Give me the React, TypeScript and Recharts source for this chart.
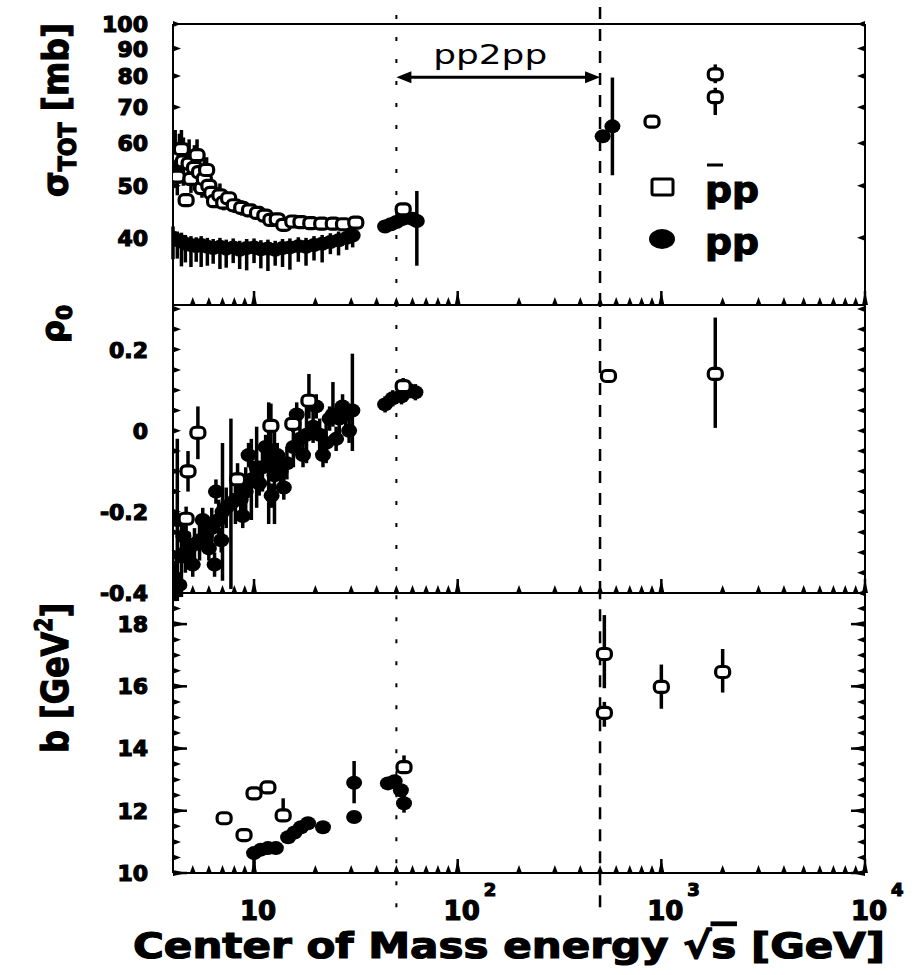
import React from 'react';
import { ScatterChart, Scatter, XAxis, YAxis, ErrorBar, ReferenceLine } from 'recharts';

const FONT = '"DejaVu Sans", "Liberation Sans", sans-serif';

// shared sqrt(s) axis [GeV]
const xTicks = [5, 6, 7, 8, 9, 10, 20, 30, 40, 50, 60, 70, 80, 90, 100, 200, 300, 400, 500, 600, 700, 800, 900, 1000, 2000, 3000, 4000, 5000, 6000, 7000, 8000, 9000, 10000];
const decades = [10, 100, 1000, 10000];
const decadeExp = ['', '2', '3', '4'];

// pp2pp energy range
const pp2ppLo = 50;
const pp2ppHi = 500;

// total cross section [mb]
const sigmaTicks = [40, 50, 60, 70, 80, 90, 100];
const ppSigmaS = [4.0, 4.2, 4.4, 4.6, 4.9, 5.2, 5.5, 5.9, 6.3, 6.8, 7.3, 7.9, 8.5, 9.2, 10.0, 10.8, 11.7, 12.7, 13.8, 15.0, 16.5, 18.0, 19.7, 21.6, 23.7, 26.0, 28.5, 30.5, 44, 47, 50, 53, 56, 60, 63, 515, 575];
const ppSigma = [40.0, 39.6, 39.4, 39.0, 38.8, 38.6, 38.8, 38.5, 38.3, 38.5, 38.2, 38.4, 38.0, 38.3, 38.4, 38.1, 38.2, 38.0, 38.3, 38.4, 38.6, 38.5, 38.8, 39.0, 39.3, 39.6, 40.0, 40.4, 42.0, 42.4, 42.8, 43.3, 43.6, 43.4, 43.0, 61.8, 64.5];
const ppSigmaLo = [3.5, 3.0, 4.0, 3.0, 3.5, 2.5, 3.5, 3.0, 2.5, 3.5, 3.0, 2.5, 3.0, 3.5, 2.5, 3.0, 3.5, 2.5, 3.0, 3.5, 2.5, 3.0, 2.5, 3.0, 2.0, 2.5, 2.0, 2.0, 0.8, 0.8, 0.8, 0.8, 0.8, 0.8, 7.5, 0, 12.2];
const ppSigmaHi = [2.0, 1.5, 1.5, 1.5, 1.5, 1.5, 1.5, 1.5, 1.5, 1.5, 1.5, 1.5, 1.5, 1.5, 1.5, 1.5, 1.5, 1.5, 1.5, 1.5, 1.5, 1.5, 1.5, 1.5, 1.5, 1.5, 1.5, 1.5, 0.8, 0.8, 0.8, 0.8, 0.8, 0.8, 5.9, 0, 15.0];

const pbarSigmaS = [4.1, 4.2, 4.3, 4.4, 4.5, 4.64, 4.8, 4.9, 5.1, 5.25, 5.4, 5.55, 5.7, 5.85, 6.0, 6.2, 6.4, 6.8, 7.1, 7.5, 8.0, 8.7, 9.5, 10.4, 11.3, 12.1, 13.0, 14.0, 15.5, 17.0, 19.0, 21.5, 24.5, 27.5, 31.6, 54, 900, 1840, 1840];
const pbarSigma = [57.5, 52.0, 56.5, 58.5, 55.5, 47.0, 55.0, 51.5, 54.0, 57.0, 53.0, 49.5, 51.5, 53.5, 50.0, 48.5, 46.8, 48.0, 46.5, 47.4, 46.0, 45.5, 45.0, 44.5, 44.0, 43.2, 43.3, 42.3, 42.9, 42.8, 42.6, 42.5, 42.5, 42.4, 42.7, 45.2, 65.8, 80.6, 73.1];
const pbarSigmaLo = [6, 4, 6, 5, 5.5, 1, 5, 3, 5, 4, 4, 2, 3.5, 3, 3, 2, 1, 2, 1.5, 1, 1.5, 1.5, 1.2, 1, 1, 0.6, 0.8, 0.6, 0.8, 0.8, 0.7, 0.7, 0.6, 0.6, 0.6, 0.5, 0, 3, 5.4];
const pbarSigmaHi = [6, 4, 6, 5, 6, 1, 6, 3, 5.5, 4, 5, 2, 4.5, 3, 3.5, 2, 1, 2.5, 1.5, 1, 1.5, 1.5, 1.2, 1, 1, 0.6, 0.8, 0.6, 0.8, 0.8, 0.7, 0.7, 0.6, 0.6, 0.6, 0.5, 0, 3.5, 3];

// rho parameter
const rhoTicks = [-0.4, -0.35, -0.3, -0.25, -0.2, -0.15, -0.1, -0.05, 0, 0.05, 0.1, 0.15, 0.2, 0.25, 0.3];
const rhoLabels = [-0.4, -0.2, 0, 0.2];
const ppRhoS = [4.1, 4.2, 4.3, 4.4, 4.5, 4.6, 4.8, 5.0, 5.1, 5.4, 5.6, 5.8, 6.0, 6.2, 6.4, 6.5, 6.7, 6.9, 7.0, 7.3, 7.7, 8.1, 8.6, 8.8, 9.1, 9.4, 9.7, 10.3, 10.6, 11.0, 11.4, 11.8, 12.2, 12.6, 13.0, 13.5, 14.0, 14.5, 15.6, 16.2, 16.8, 17.4, 18.1, 19.5, 20.2, 21.0, 21.8, 22.6, 23.5, 24.4, 25.3, 26.2, 27.2, 28.2, 29.3, 30.4, 44, 48, 53, 58, 62];
const ppRho = [-0.37, -0.22, -0.38, -0.31, -0.26, -0.30, -0.29, -0.33, -0.28, -0.27, -0.22, -0.26, -0.29, -0.24, -0.33, -0.15, -0.22, -0.27, -0.20, -0.19, -0.18, -0.17, -0.17, -0.21, -0.15, -0.06, -0.12, -0.09, -0.13, -0.09, -0.04, -0.08, -0.16, -0.11, -0.06, -0.10, -0.14, -0.08, -0.04, 0.04, -0.02, -0.06, -0.01, 0.01, 0.06, -0.01, -0.06, -0.03, 0.03, 0.04, -0.02, 0.03, 0.06, 0.04, 0.0, 0.05, 0.065, 0.08, 0.085, 0.1, 0.095];
const ppRhoLo = [0.05, 0.2, 0.03, 0.1, 0.03, 0.05, 0.04, 0.03, 0.04, 0.05, 0.03, 0.04, 0.03, 0.05, 0.03, 0.03, 0.05, 0.03, 0.17, 0.05, 0.21, 0.06, 0.05, 0.03, 0.06, 0.03, 0.1, 0.1, 0.03, 0.06, 0.03, 0.15, 0.03, 0.12, 0.03, 0.05, 0.03, 0.04, 0.05, 0.03, 0.05, 0.03, 0.07, 0.04, 0.03, 0.04, 0.03, 0.05, 0.03, 0.03, 0.03, 0.04, 0.03, 0.03, 0.03, 0.1, 0.02, 0.02, 0.02, 0.02, 0.02];
const ppRhoHi = [0.05, 0.2, 0.03, 0.1, 0.03, 0.05, 0.04, 0.03, 0.04, 0.05, 0.03, 0.04, 0.03, 0.05, 0.03, 0.03, 0.05, 0.03, 0.17, 0.05, 0.21, 0.06, 0.05, 0.03, 0.06, 0.03, 0.1, 0.1, 0.03, 0.06, 0.03, 0.15, 0.03, 0.12, 0.03, 0.05, 0.03, 0.04, 0.05, 0.03, 0.05, 0.03, 0.07, 0.04, 0.03, 0.04, 0.03, 0.05, 0.03, 0.08, 0.03, 0.04, 0.03, 0.03, 0.03, 0.14, 0.02, 0.02, 0.02, 0.02, 0.02];

const pbarRhoS = [4.64, 4.74, 5.3, 8.3, 12.1, 15.5, 18.6, 54, 550, 1840];
const pbarRho = [-0.217, -0.10, -0.005, -0.12, 0.012, 0.017, 0.074, 0.11, 0.135, 0.14];
const pbarRhoLo = [0.03, 0.05, 0.065, 0.04, 0.05, 0.02, 0.044, 0.02, 0.01, 0.133];
const pbarRhoHi = [0.03, 0.05, 0.065, 0.04, 0.055, 0.03, 0.066, 0.02, 0.01, 0.139];

// nuclear slope b [GeV^2]
const bTicks = [10, 10.5, 11, 11.5, 12, 12.5, 13, 13.5, 14, 14.5, 15, 15.5, 16, 16.5, 17, 17.5, 18, 18.5, 19];
const bLabels = [10, 12, 14, 16, 18];
const ppBS = [10.0, 10.8, 11.7, 12.8, 14.7, 15.8, 17.0, 18.4, 21.8, 31.0, 31.0, 45.4, 49, 52.6, 54.5];
const ppB = [10.64, 10.75, 10.8, 10.8, 11.15, 11.3, 11.47, 11.6, 11.47, 12.9, 11.8, 12.88, 12.95, 12.66, 12.24];
const ppBLo = [0.64, 0.1, 0.1, 0.1, 0.1, 0.1, 0.1, 0.1, 0.1, 0.66, 0.1, 0.15, 0.15, 0.2, 0.3];
const ppBHi = [0.1, 0.1, 0.1, 0.1, 0.1, 0.1, 0.1, 0.1, 0.1, 0.7, 0.1, 0.15, 0.15, 0.2, 0.3];

const pbarBS = [7.13, 8.93, 10.0, 11.7, 13.9, 54.5, 525, 525, 1000, 2000];
const pbarB = [11.76, 11.22, 12.56, 12.75, 11.85, 13.4, 17.04, 15.15, 15.98, 16.46];
const pbarBLo = [0, 0, 0, 0, 0.1, 0.1, 1.1, 0.45, 0.7, 0.66];
const pbarBHi = [0, 0, 0, 0, 0.55, 0.38, 1.25, 0.35, 0.72, 0.74];

const pts = (s: number[], v: number[], lo: number[], hi: number[]) =>
  s.map((x, i) => ({ x, y: v[i], err: [lo[i], hi[i]] }));

const margin = { top: 0, right: 46, bottom: 0, left: 93 };
const axisLine = { stroke: '#000', strokeWidth: 2 };
const heavy = { stroke: '#000', strokeWidth: 1.2 };

function FilledDot(props: any) {
  const { cx, cy } = props;
  if (cx == null || cy == null) return null;
  return <ellipse cx={cx} cy={cy} rx={8} ry={7} fill="#000" />;
}

function OpenMark(props: any) {
  const { cx, cy } = props;
  if (cx == null || cy == null) return null;
  return <rect x={cx - 7} y={cy - 5.5} width={14} height={11} rx={4.5} fill="#fff" stroke="#000" strokeWidth={3.2} />;
}

function XTick(props: any) {
  const { x, y, payload, dir, showLabel } = props;
  const v = payload.value;
  const di = decades.indexOf(v);
  const major = di >= 0;
  const len = major ? 14 : 8;
  const tip = y + dir * len;
  return (
    <g>
      <path d={`M${x - 3},${y} L${x + 3},${y} L${x},${tip} Z`} fill="#000" />
      {major && <line x1={x} y1={y} x2={x} y2={tip} stroke="#000" strokeWidth={2.5} />}
      {showLabel && major && (
        <g fontFamily={FONT} fontWeight={700} fill="#000" {...heavy}>
          <text x={x + 4} y={y + 47} fontSize={26} textAnchor="middle">10</text>
          {decadeExp[di] && <text x={x + 26} y={y + 23} fontSize={18}>{decadeExp[di]}</text>}
        </g>
      )}
    </g>
  );
}

function YTick(props: any) {
  const { x, y, payload, dir, labels, majors } = props;
  const v = payload.value;
  const near = (list: number[]) => list.some((l) => Math.abs(l - v) < 1e-9);
  const isMajor = majors && near(majors);
  const len = isMajor ? 14 : 8;
  const tip = x + dir * len;
  return (
    <g>
      <path d={`M${x},${y - 3} L${x},${y + 3} L${tip},${y} Z`} fill="#000" />
      {isMajor && <line x1={x} y1={y} x2={tip} y2={y} stroke="#000" strokeWidth={2.5} />}
      {labels && near(labels) && (
        <text x={x - 25} y={y} dy="0.36em" textAnchor="end" fontFamily={FONT} fontWeight={700} fontSize={22} fill="#000" {...heavy}>
          {String(v)}
        </text>
      )}
    </g>
  );
}

function Pp2ppArrow(props: any) {
  const { x1, y1, x2 } = props;
  return (
    <g>
      <line x1={x1 + 8} y1={y1} x2={x2 - 8} y2={y1} stroke="#000" strokeWidth={3} />
      <path d={`M${x1},${y1} l15,-6 l0,12 Z`} fill="#000" />
      <path d={`M${x2},${y1} l-15,-6 l0,12 Z`} fill="#000" />
      <text x={(x1 + x2) / 2 - 8} y={y1 - 13} textAnchor="middle" fontFamily={FONT} fontSize={26} textLength={114} lengthAdjust="spacingAndGlyphs" fill="#000">
        pp2pp
      </text>
    </g>
  );
}

function Axes({ yDomain, yTicks, yLabels, yMajors, yScale, topH, bottomH, xLabels }: any) {
  return [
    <XAxis key="xb" xAxisId={0} dataKey="x" type="number" scale="log" domain={[4, 10000]} allowDataOverflow
      ticks={xTicks} interval={0} height={bottomH} tickSize={0} tickMargin={0} tickLine={false} axisLine={axisLine}
      tick={(p: any) => <XTick {...p} dir={-1} showLabel={xLabels} />} />,
    <XAxis key="xt" xAxisId="top" orientation="top" type="number" scale="log" domain={[4, 10000]} allowDataOverflow
      ticks={xTicks} interval={0} height={topH} tickSize={0} tickMargin={0} tickLine={false} axisLine={axisLine}
      tick={(p: any) => <XTick {...p} dir={1} showLabel={false} />} />,
    <YAxis key="yl" yAxisId={0} dataKey="y" type="number" scale={yScale} domain={yDomain} allowDataOverflow
      ticks={yTicks} interval={0} width={80} tickSize={0} tickMargin={0} tickLine={false} axisLine={axisLine}
      tick={(p: any) => <YTick {...p} dir={1} labels={yLabels} majors={yMajors} />} />,
    <YAxis key="yr" yAxisId="right" orientation="right" type="number" scale={yScale} domain={yDomain} allowDataOverflow
      ticks={yTicks} interval={0} width={1} tickSize={0} tickMargin={0} tickLine={false} axisLine={axisLine}
      tick={(p: any) => <YTick {...p} dir={-1} majors={yMajors} />} />,
  ];
}

function Series({ pp, pbar }: any) {
  return [
    <Scatter key="pp" data={pp} shape={FilledDot} isAnimationActive={false}>
      <ErrorBar dataKey="err" direction="y" width={0} stroke="#000" strokeWidth={3.5} />
    </Scatter>,
    <Scatter key="pbar" data={pbar} shape={OpenMark} isAnimationActive={false}>
      <ErrorBar dataKey="err" direction="y" width={0} stroke="#000" strokeWidth={3.5} />
    </Scatter>,
  ];
}

const loLine = { stroke: '#000', strokeWidth: 2, strokeDasharray: '4 18' };
const hiLine = { stroke: '#000', strokeWidth: 2.5, strokeDasharray: '12 10' };

export default function App() {
  const sigmaPp = pts(ppSigmaS, ppSigma, ppSigmaLo, ppSigmaHi);
  const sigmaPbar = pts(pbarSigmaS, pbarSigma, pbarSigmaLo, pbarSigmaHi);
  const rhoPp = pts(ppRhoS, ppRho, ppRhoLo, ppRhoHi);
  const rhoPbar = pts(pbarRhoS, pbarRho, pbarRhoLo, pbarRhoHi);
  const bPp = pts(ppBS, ppB, ppBLo, ppBHi);
  const bPbar = pts(pbarBS, pbarB, pbarBLo, pbarBHi);

  return (
    <div style={{ position: 'absolute', left: 0, top: 0, width: 912, height: 975, background: '#fff', overflow: 'hidden' }}>
      <div style={{ position: 'absolute', left: 0, top: 0 }}>
        <ScatterChart width={912} height={306} margin={margin}>
          {Axes({ yDomain: [30, 100], yTicks: sigmaTicks, yLabels: sigmaTicks, yScale: 'log', topH: 24, bottomH: 1, xLabels: false })}
          <ReferenceLine segment={[{ x: pp2ppLo, y: 30 }, { x: pp2ppLo, y: 150 }]} ifOverflow="visible" {...loLine} />
          <ReferenceLine segment={[{ x: pp2ppHi, y: 30 }, { x: pp2ppHi, y: 150 }]} ifOverflow="visible" {...hiLine} />
          <ReferenceLine segment={[{ x: pp2ppLo, y: 79.6 }, { x: pp2ppHi, y: 79.6 }]} ifOverflow="visible" shape={Pp2ppArrow} />
          {Series({ pp: sigmaPp, pbar: sigmaPbar })}
        </ScatterChart>
      </div>
      <div style={{ position: 'absolute', left: 0, top: 304 }}>
        <ScatterChart width={912} height={310} margin={margin}>
          {Axes({ yDomain: [-0.4, 0.31], yTicks: rhoTicks, yLabels: rhoLabels, yScale: 'linear', topH: 1, bottomH: 21, xLabels: false })}
          <ReferenceLine segment={[{ x: pp2ppLo, y: -0.4 }, { x: pp2ppLo, y: 0.31 }]} ifOverflow="visible" {...loLine} />
          <ReferenceLine segment={[{ x: pp2ppHi, y: -0.4 }, { x: pp2ppHi, y: 0.31 }]} ifOverflow="visible" {...hiLine} />
          {Series({ pp: rhoPp, pbar: rhoPbar })}
        </ScatterChart>
      </div>
      <div style={{ position: 'absolute', left: 0, top: 592 }}>
        <ScatterChart width={912} height={381} margin={margin}>
          {Axes({ yDomain: [10, 19], yTicks: bTicks, yLabels: bLabels, yMajors: bLabels, yScale: 'linear', topH: 1, bottomH: 100, xLabels: true })}
          <ReferenceLine segment={[{ x: pp2ppLo, y: 8.9 }, { x: pp2ppLo, y: 19 }]} ifOverflow="visible" {...loLine} />
          <ReferenceLine segment={[{ x: pp2ppHi, y: 8.9 }, { x: pp2ppHi, y: 19 }]} ifOverflow="visible" {...hiLine} />
          {Series({ pp: bPp, pbar: bPbar })}
        </ScatterChart>
      </div>
      <svg width={912} height={975} style={{ position: 'absolute', left: 0, top: 0, pointerEvents: 'none' }} fontFamily={FONT} fontWeight={700} fill="#000">
        <g {...heavy}>
          <text transform="translate(68,110) rotate(-90)" textAnchor="middle" fontSize={36} textLength={174} lengthAdjust="spacingAndGlyphs">
            σ<tspan fontSize={24} dy={8}>TOT</tspan><tspan dy={-8}> [mb]</tspan>
          </text>
          <text transform="translate(64,343) rotate(-90)" fontSize={32}>
            ρ<tspan fontSize={22} dy={8}>0</tspan>
          </text>
          <text transform="translate(68,753) rotate(-90)" fontSize={38} textLength={150} lengthAdjust="spacingAndGlyphs">
            b [GeV<tspan fontSize={24} dy={-16}>2</tspan><tspan dy={16}>]</tspan>
          </text>
          <text x={133} y={958} fontSize={36} textLength={752} lengthAdjust="spacingAndGlyphs">
            Center of Mass energy √<tspan textDecoration="overline">s</tspan> [GeV]
          </text>
          <text x={705} y={202} fontSize={36} textLength={54} lengthAdjust="spacingAndGlyphs">pp</text>
          <text x={705} y={254} fontSize={36} textLength={54} lengthAdjust="spacingAndGlyphs">pp</text>
        </g>
        <rect x={652} y={179} width={21} height={16} rx={2} fill="#fff" stroke="#000" strokeWidth={3} />
        <ellipse cx={662} cy={239} rx={13} ry={10} fill="#000" />
        <line x1={707} y1={165} x2={723} y2={165} stroke="#000" strokeWidth={3} />
      </svg>
    </div>
  );
}
